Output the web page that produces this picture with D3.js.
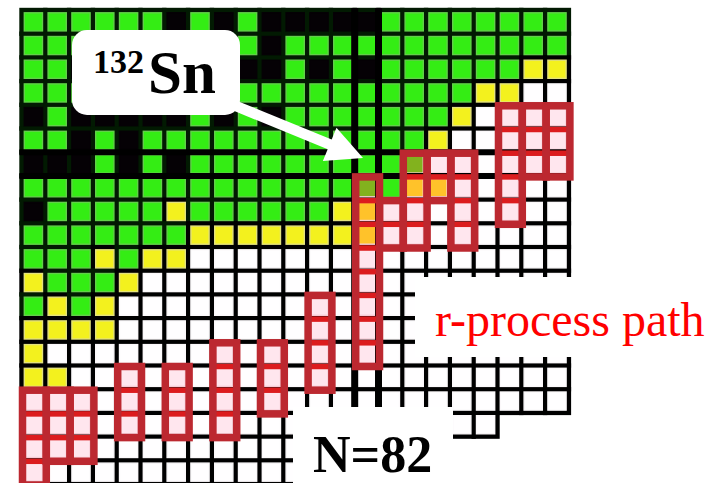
<!DOCTYPE html>
<html>
<head>
<meta charset="utf-8">
<script src="https://cdn.jsdelivr.net/npm/d3@7"></script>
<style>
  body { margin: 0; background: #fff; }
  svg { display: block; }
</style>
</head>
<body>
<svg width="718" height="483"></svg>
<script>
// columns: neutron number N, rows: proton number Z (top to bottom)
const neutrons = [68, 69, 70, 71, 72, 73, 74, 75, 76, 77, 78, 79, 80, 81, 82, 83, 84, 85, 86, 87, 88, 89, 90];
const protons = [56, 55, 54, 53, 52, 51, 50, 49, 48, 47, 46, 45, 44, 43, 42, 41, 40, 39, 38, 37];

// B = stable, G = measured, Y = partly measured, W = unmeasured, - = no cell
const cellRows = [
  "GGGGGGBGBGBBBBBGGGGGGGG",
  "GGGGGGGGGGBGGGGGGGGGGGG",
  "GGBGBGBBBBBGBGBGGGGGGYY",
  "GGGGGGBGGGGGGGGGGGGYYWW",
  "BGBBBBBGBGBGGGGGGGYWWWW",
  "GGBGBGGGGGGGGGGGGYWWWWW",
  "BBBGBGBGGGGGGGGGGWWWWWW",
  "GGGGGGGGGGGGGGGGYYWWWWW",
  "BGGGGGYGGGGGGYYWWWWWWWW",
  "GGGGGGGYYYYYYYYWWWWWWWW",
  "GGGYGYYWWWWWWWWWWWWWWWW",
  "YGGGYWWWWWWWWWWWWWWWWWW",
  "GYGYWWWWWWWWWWWWWWWWWWW",
  "YYYYWWWWWWWWWWWWWWWWWWW",
  "YWWWWWWWWWWWWWWWWWWWWWW",
  "YYWWWWWWWWWWWWWWWWWWWWW",
  "WWWWWWWWWWWWWWWWWWWWWWW",
  "WWWWWWWWWWWWWWWWWWWW---",
  "WWWWWWWWWWWW-----------",
  "WWWWWWWWWWWW-----------"
];

// r-process path: one vertical run of Z per neutron number
const pathN     = [68, 69, 70, 72, 74, 76, 78, 80, 82, 83, 84, 85, 86, 88, 89, 90];
const pathZlow  = [37, 38, 38, 39, 39, 39, 40, 41, 42, 47, 47, 49, 47, 48, 50, 50];
const pathZhigh = [40, 40, 40, 41, 41, 42, 42, 44, 49, 48, 50, 50, 50, 52, 52, 52];

const magicN = 82;
const magicZ = 50;

const svg = d3.select("svg");

const x = d3.scaleBand().domain(neutrons).range([21.5, 568.9]);
const y = d3.scaleBand().domain(protons).range([10, 484]);
const bw = x.bandwidth(), bh = y.bandwidth();

const fills = { B: "#050105", G: "#34ed14", Y: "#f3f11e", W: "#fffeff" };
const edges = { B: "#050105", G: "#62d049", Y: "#e4e27c", W: "#fbf8fa" };
const tinted = { B: "#3a0808", G: "#82b21e", Y: "#ffc22a", W: "#ffe6ee" };

function onPath(N, Z) {
  const k = pathN.indexOf(N);
  return k >= 0 && Z >= pathZlow[k] && Z <= pathZhigh[k];
}

const cells = [];
cellRows.forEach((row, i) => {
  row.split("").forEach((code, j) => {
    if (code !== "-") cells.push({ N: neutrons[j], Z: protons[i], code });
  });
});

const grid = svg.append("g");

// grid lines as a dark backing behind each cell
grid.selectAll(".back")
  .data(cells)
  .join("rect")
  .attr("class", "back")
  .attr("x", d => x(d.N) - 2.2)
  .attr("y", d => y(d.Z) - 2.2)
  .attr("width", bw + 4.4)
  .attr("height", bh + 4.4)
  .attr("fill", d => (d.code === "G" || d.code === "B") ? "#021a02" : "#000");

grid.selectAll(".cell")
  .data(cells)
  .join("rect")
  .attr("class", "cell")
  .attr("x", d => x(d.N) + 2.8)
  .attr("y", d => y(d.Z) + 2.8)
  .attr("width", bw - 5.6)
  .attr("height", bh - 5.6)
  .attr("fill", d => onPath(d.N, d.Z) ? tinted[d.code] : fills[d.code])
  .attr("stroke", d => onPath(d.N, d.Z) ? "#f6ccd6" : edges[d.code])
  .attr("stroke-width", 1.4);

// magic numbers: thicker lines
const x0 = x.range()[0], x1 = x.range()[1];
grid.selectAll(".magicZ")
  .data([y(magicZ), y(magicZ) + bh])
  .join("line")
  .attr("x1", x0 - 2).attr("x2", x1 + 2)
  .attr("y1", d => d).attr("y2", d => d)
  .attr("stroke", "#000")
  .attr("stroke-width", 6);

grid.selectAll(".magicN")
  .data([x(magicN), x(magicN) + bw])
  .join("line")
  .attr("x1", d => d).attr("x2", d => d)
  .attr("y1", y.range()[0] - 2).attr("y2", y(38))
  .attr("stroke", "#000")
  .attr("stroke-width", 7);

// r-process path
const runs = pathN.map((N, k) => ({ N, lo: pathZlow[k], hi: pathZhigh[k] }));
const path = svg.append("g");

runs.forEach(r => {
  const zs = protons.filter(z => z > r.lo && z <= r.hi);
  path.selectAll(null)
    .data(zs)
    .join("line")
    .attr("x1", x(r.N) + 1)
    .attr("x2", x(r.N) + bw + 1)
    .attr("y1", z => y(z) + bh + 1)
    .attr("y2", z => y(z) + bh + 1)
    .attr("stroke", "#dc1c1e")
    .attr("stroke-width", 5.5);
});

path.selectAll(".run")
  .data(runs)
  .join("rect")
  .attr("class", "run")
  .attr("x", d => x(d.N) + 1)
  .attr("y", d => y(d.hi) + 1)
  .attr("width", bw)
  .attr("height", d => y(d.lo) + bh - y(d.hi))
  .attr("fill", "none")
  .attr("stroke", "#bc2830")
  .attr("stroke-width", 7.5);

// label boxes
const labels = svg.append("g");
labels.append("rect")
  .attr("x", 415).attr("y", 277).attr("width", 303).attr("height", 80)
  .attr("fill", "#fff");
labels.append("rect")
  .attr("x", 293).attr("y", 407).attr("width", 160).attr("height", 76)
  .attr("fill", "#fff");

// arrow to 132Sn
const tip = [363, 158], start = [226, 102];
const dx = tip[0] - start[0], dy = tip[1] - start[1];
const len = Math.hypot(dx, dy);
const ux = dx / len, uy = dy / len;
const headLen = 36, headHalf = 18;
const base = [tip[0] - headLen * ux, tip[1] - headLen * uy];
labels.append("line")
  .attr("x1", start[0]).attr("y1", start[1])
  .attr("x2", base[0] + 2 * ux).attr("y2", base[1] + 2 * uy)
  .attr("stroke", "#fff")
  .attr("stroke-width", 10.5);
labels.append("path")
  .attr("d", d3.line()([
    tip,
    [base[0] - headHalf * uy, base[1] + headHalf * ux],
    [base[0] + headHalf * uy, base[1] - headHalf * ux]
  ]) + "Z")
  .attr("fill", "#fff");

labels.append("rect")
  .attr("x", 72).attr("y", 30).attr("width", 168).attr("height", 85)
  .attr("rx", 15).attr("ry", 15)
  .attr("fill", "#fff");

const sn = labels.append("text")
  .attr("font-family", "'Liberation Serif', 'DejaVu Serif', serif")
  .attr("font-weight", "bold")
  .attr("fill", "#000");
sn.append("tspan").attr("x", 93).attr("y", 73).attr("font-size", 34).text("132");
sn.append("tspan").attr("x", 148).attr("y", 93).attr("font-size", 61).text("Sn");

labels.append("text")
  .attr("x", 435).attr("y", 336)
  .attr("font-family", "'Liberation Serif', 'DejaVu Serif', serif")
  .attr("font-size", 48)
  .attr("fill", "#ff0000")
  .text("r-process path");

labels.append("text")
  .attr("x", 313).attr("y", 472)
  .attr("font-family", "'Liberation Serif', 'DejaVu Serif', serif")
  .attr("font-weight", "bold")
  .attr("font-size", 52)
  .attr("fill", "#000")
  .text("N=82");
</script>
</body>
</html>
